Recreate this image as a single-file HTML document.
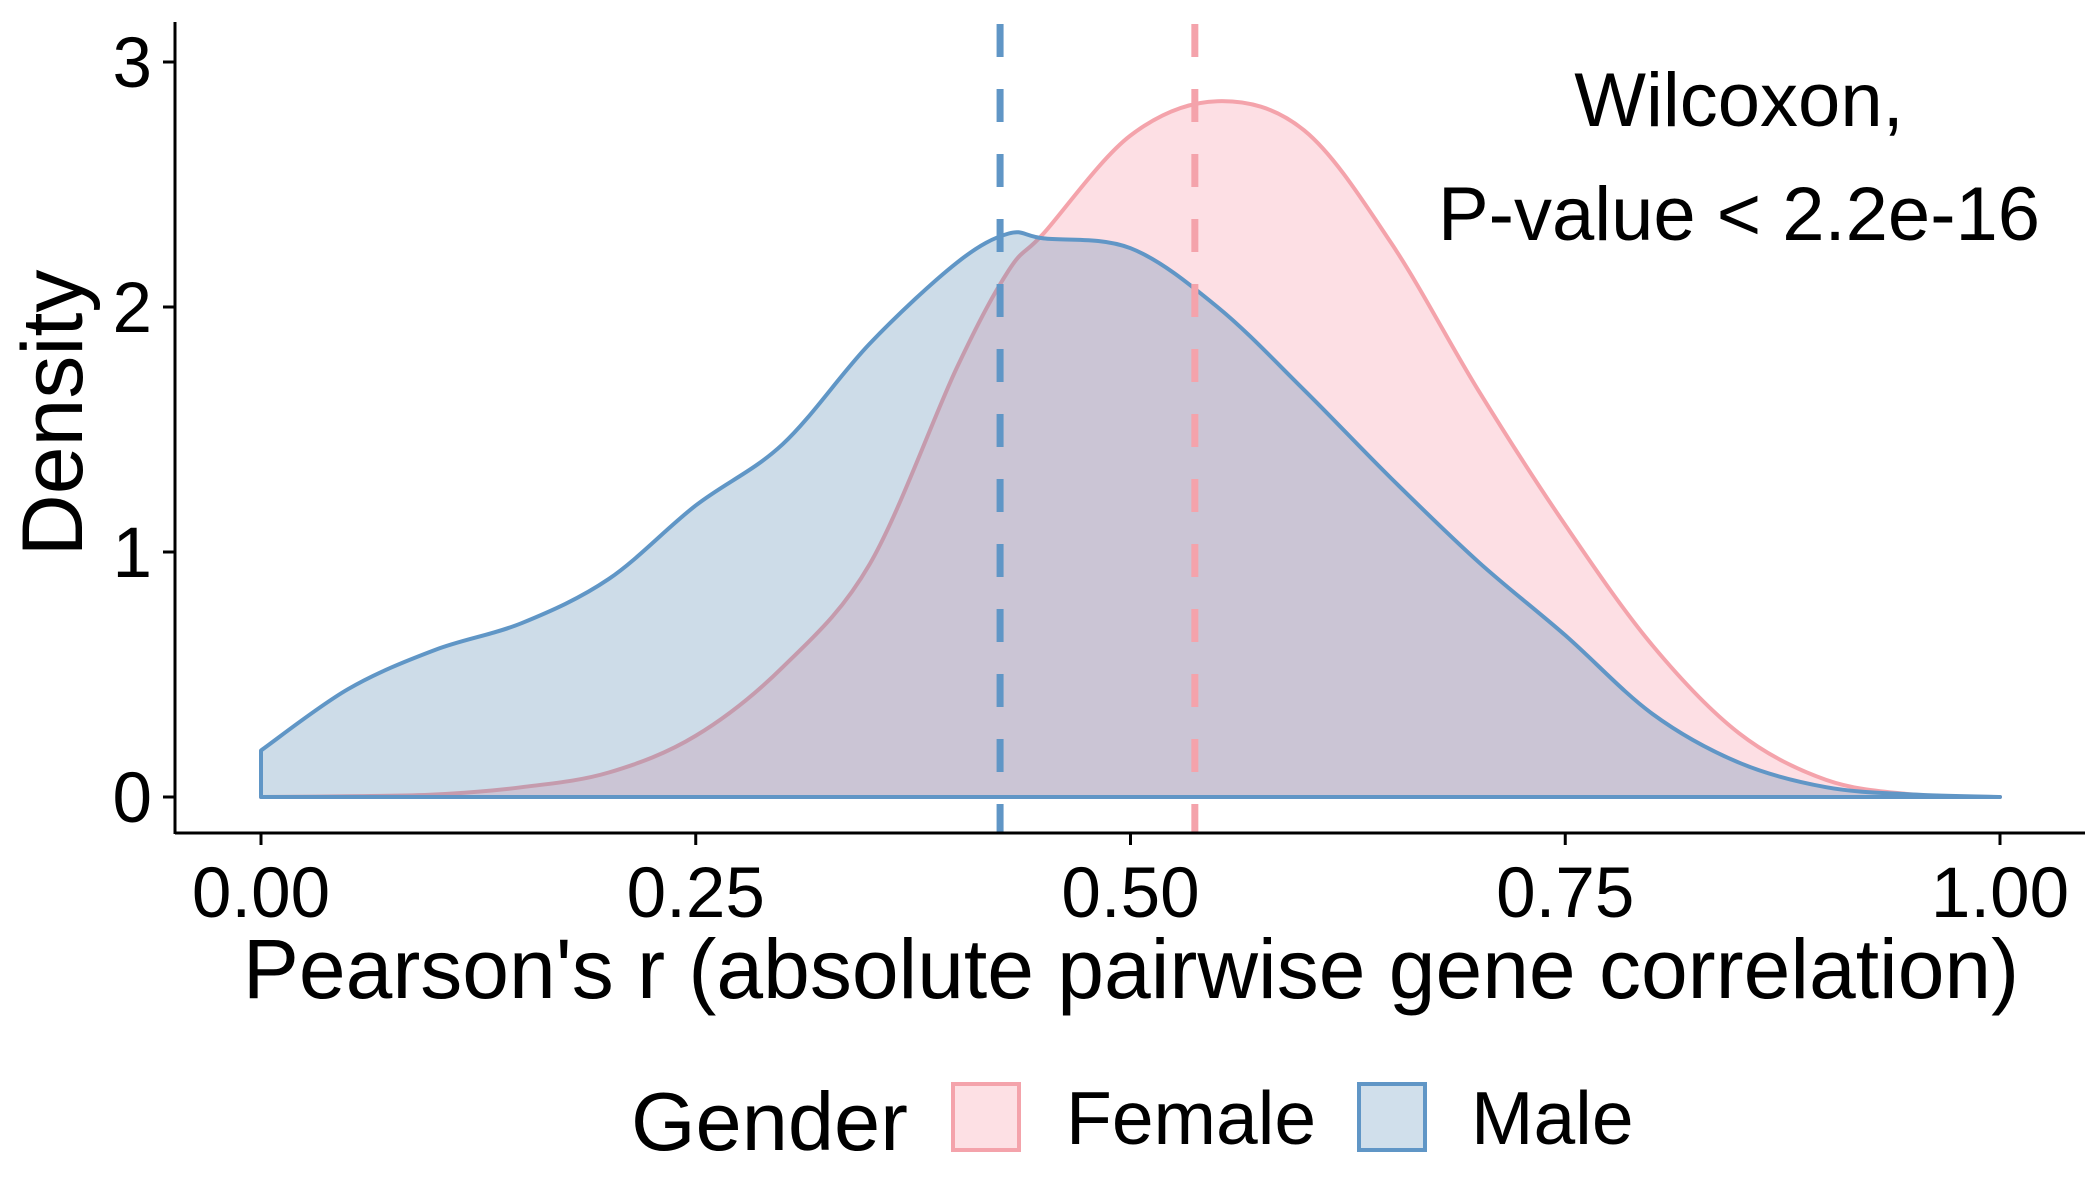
<!DOCTYPE html>
<html><head><meta charset="utf-8"><style>
html,body{margin:0;padding:0;background:#fff;}
svg{display:block;font-family:"Liberation Sans",Arial,sans-serif;}
</style></head><body>
<svg id="chart" width="2100" height="1200" viewBox="0 0 2100 1200">
<g id="plot"></g>
<g id="axes"></g>
<text x="1739" y="126" font-size="76" text-anchor="middle">Wilcoxon,</text>
<text x="1739" y="240" font-size="76" text-anchor="middle">P-value &lt; 2.2e-16</text>
<text x="1131" y="998" font-size="84" text-anchor="middle">Pearson's r (absolute pairwise gene correlation)</text>
<text transform="translate(82,413) rotate(-90)" font-size="86" text-anchor="middle">Density</text>
<g>
<text x="631" y="1150" font-size="83">Gender</text>
<rect x="953" y="1084" width="66" height="66" fill="#fde0e4" stroke="#f4a3ab" stroke-width="4"/>
<text x="1066" y="1144" font-size="75">Female</text>
<rect x="1359" y="1084" width="66" height="66" fill="#d0dfeb" stroke="#6096c6" stroke-width="4"/>
<text x="1471" y="1144" font-size="75">Male</text>
</g>
</svg>
<script>
const xs = [0,0.05,0.1,0.15,0.2,0.25,0.3,0.35,0.4,0.43,0.45,0.5,0.55,0.6,0.65,0.7,0.75,0.8,0.85,0.9,0.95,1.0];
const maleDensity = [0.19,0.44,0.60,0.71,0.89,1.19,1.44,1.85,2.18,2.30,2.28,2.24,2.0,1.66,1.30,0.96,0.66,0.34,0.14,0.04,0.01,0];
const femaleDensity = [0,0.003,0.01,0.04,0.1,0.25,0.53,0.95,1.75,2.15,2.3,2.70,2.84,2.72,2.26,1.66,1.11,0.62,0.26,0.07,0.01,0];
const medians = [0.537,0.425];
const xTicks = [0,0.25,0.5,0.75,1.0];
const xTickLabels = ["0.00","0.25","0.50","0.75","1.00"];
const yTicks = [0,1,2,3];
const yTickLabels = ["0","1","2","3"];

const NS="http://www.w3.org/2000/svg";
const X=v=>261+v*1739;
const Y=v=>797-v*245;
function mk(t,a,p){const e=document.createElementNS(NS,t);for(const k in a)e.setAttribute(k,a[k]);p.appendChild(e);return e;}
function smooth(pts){
  let d=`M${pts[0][0]},${pts[0][1]}`;
  for(let i=0;i<pts.length-1;i++){
    const p0=pts[Math.max(0,i-1)],p1=pts[i],p2=pts[i+1],p3=pts[Math.min(pts.length-1,i+2)];
    const c1=[p1[0]+(p2[0]-p0[0])/6,p1[1]+(p2[1]-p0[1])/6];
    const c2=[p2[0]-(p3[0]-p1[0])/6,p2[1]-(p3[1]-p1[1])/6];
    d+=` C${c1[0]},${c1[1]} ${c2[0]},${c2[1]} ${p2[0]},${p2[1]}`;
  }
  return d;
}
const plot=document.getElementById('plot');
function drawDensity(vals,fill,stroke,name){
  const pts=xs.map((x,i)=>[X(x),Y(vals[i])]);
  const d=`M${X(xs[0])},${Y(0)} L`+smooth(pts).slice(1)+` L${X(xs[xs.length-1])},${Y(0)} Z`;
  const p=mk('path',{d:d,fill:fill,stroke:stroke,'stroke-width':4,'stroke-linejoin':'round'},plot);
  
  
}
drawDensity(femaleDensity,'rgba(248,150,165,0.3)','#f4a3ab','female-density');
drawDensity(maleDensity,'rgba(90,140,180,0.3)','#6096c6','male-density');
const mcol=['#f4a3ab','#6096c6'];
const mnames=['female-median-line','male-median-line'];
medians.forEach((m,i)=>{
  const l=mk('line',{x1:X(m),x2:X(m),y1:24,y2:833,stroke:mcol[i],'stroke-width':7,'stroke-dasharray':'33 32'},plot);
  
  
});
const axes=document.getElementById('axes');
const xa=mk('line',{x1:175,x2:2085,y1:833,y2:833,stroke:'#000','stroke-width':3},axes);


const ya=mk('line',{x1:175,x2:175,y1:22,y2:834,stroke:'#000','stroke-width':3},axes);


xTicks.forEach((t,i)=>{
  const tk=mk('line',{x1:X(t),x2:X(t),y1:833,y2:845,stroke:'#000','stroke-width':3},axes);
  
  
  const tx=mk('text',{x:X(t),y:917,'font-size':71,'text-anchor':'middle'},axes);
  tx.textContent=xTickLabels[i];
  
  
});
yTicks.forEach((t,i)=>{
  const tk=mk('line',{x1:163,x2:175,y1:Y(t),y2:Y(t),stroke:'#000','stroke-width':3},axes);
  
  
  const tx=mk('text',{x:152,y:Y(t)+25,'font-size':71,'text-anchor':'end'},axes);
  tx.textContent=yTickLabels[i];
  
  
});
</script>
</body></html>
